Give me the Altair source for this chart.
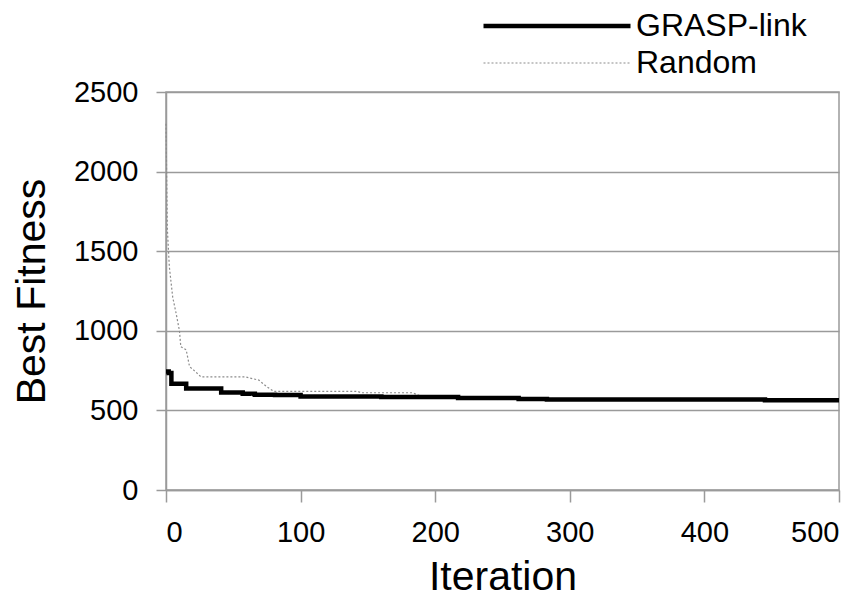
import altair as alt
import pandas as pd

# GRASP-link best fitness (step changes)
grasp_iter = [0, 2, 4, 15, 41, 57, 66, 81, 100, 160, 217, 262, 283, 445, 500]
grasp_val = [745, 735, 668, 637, 612, 605, 599, 597, 588, 584, 578, 571, 568, 563, 563]

# Random best fitness
rand_iter = [0, 1, 2.5, 5, 7.5, 10, 11, 15, 17.5, 21, 26, 59, 69, 75, 80, 142, 145, 183, 190, 220, 300, 500]
rand_val = [2300, 1640, 1400, 1210, 1110, 1000, 900, 880, 775, 750, 710, 710, 690, 648, 620, 620, 611, 611, 588, 580, 568, 563]

series_names = ["GRASP-link", "Random"]
x_ticks = [0, 100, 200, 300, 400, 500]
y_ticks = [0, 500, 1000, 1500, 2000, 2500]

df_g = pd.DataFrame({"Iteration": grasp_iter, "Fitness": grasp_val, "Series": series_names[0]})
df_r = pd.DataFrame({"Iteration": rand_iter, "Fitness": rand_val, "Series": series_names[1]})

FONT = "Liberation Sans"

color = alt.Color("Series:N", scale=alt.Scale(domain=series_names, range=["#000000", "#8c8c8c"]),
                  legend=alt.Legend(title=None, orient="none", legendX=375, legendY=-82,
                                    symbolType="M-7.35,0H7.35", symbolSize=400,
                                    labelFontSize=32, labelFont=FONT, labelColor="#000000",
                                    labelLimit=400, rowPadding=5, labelOffset=63, padding=0))
dash = alt.StrokeDash("Series:N", scale=alt.Scale(domain=series_names, range=[[1, 0], [2, 2]]))
width = alt.StrokeWidth("Series:N", scale=alt.Scale(domain=series_names, range=[4.5, 1.2]))

x = alt.X("Iteration:Q", scale=alt.Scale(domain=[0, 500], nice=False),
          axis=alt.Axis(values=x_ticks, grid=False, title="Iteration", format="d"))
y = alt.Y("Fitness:Q", scale=alt.Scale(domain=[0, 2500], nice=False),
          axis=alt.Axis(values=y_ticks, grid=True, title="Best Fitness", format="d"))

rand_layer = alt.Chart(df_r).mark_line(interpolate="linear").encode(
    x=x, y=y, color=color, strokeDash=dash, strokeWidth=width)
grasp_layer = alt.Chart(df_g).mark_line(interpolate="step-after").encode(
    x=x, y=y, color=color, strokeDash=dash, strokeWidth=width)

chart = alt.layer(rand_layer, grasp_layer).properties(
    width=673, height=398,
    autosize=alt.AutoSizeParams(type="none"),
    padding={"left": 158, "top": 84, "right": 20, "bottom": 109},
).configure_view(stroke="#9a9a9a", strokeWidth=1.5).configure_axis(
    labelFont=FONT, titleFont=FONT, labelFontSize=29, titleFontSize=41,
    labelColor="#000000", titleColor="#000000", titleFontWeight="normal",
    domainColor="#9a9a9a", domainWidth=1.5, tickColor="#9a9a9a", tickWidth=1.5,
    gridColor="#9a9a9a", gridWidth=1.5, tickSize=10,
).configure_axisX(labelPadding=16, titlePadding=10, tickSize=12).configure_axisY(
    labelPadding=18, titlePadding=20)

chart.save("out.html", embed_options={"renderer": "svg", "actions": False})
